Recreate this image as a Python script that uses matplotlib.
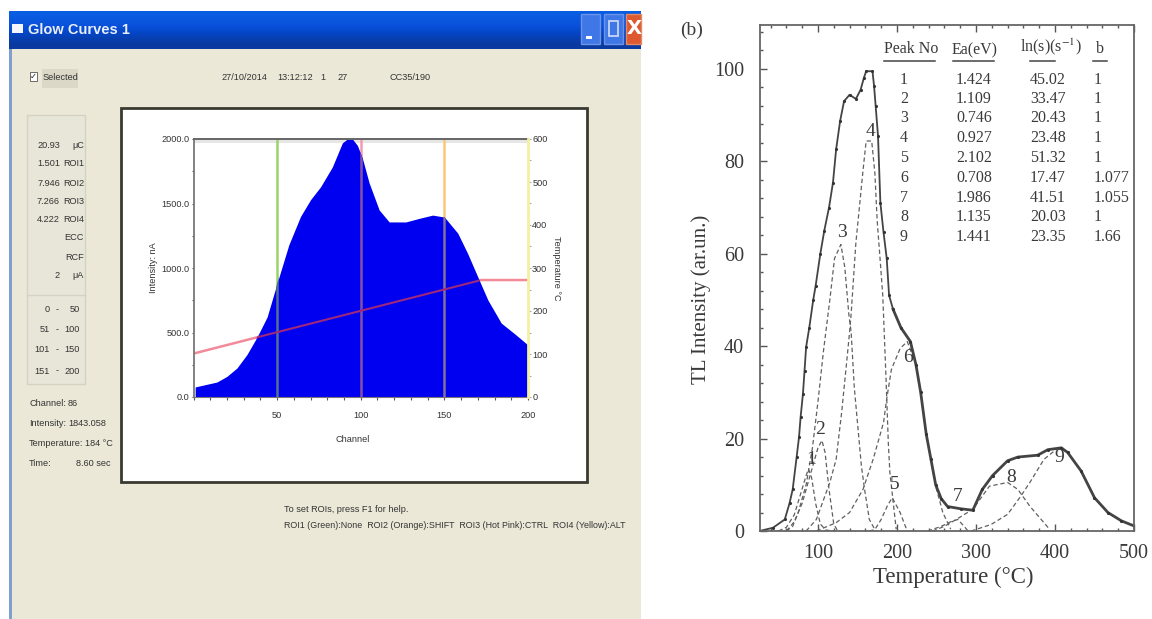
import numpy as np
import matplotlib
matplotlib.use('Agg')
import matplotlib.pyplot as plt
from matplotlib.colors import LinearSegmentedColormap
from matplotlib.patches import Rectangle
from matplotlib.ticker import MultipleLocator, FormatStrFormatter

W, H = 1152, 619

# Left panel: glow curve screenshot
channel = [1, 14, 20, 26, 32, 38, 44, 50, 57, 64, 70, 76, 83, 89, 92, 95, 98, 101, 105, 111, 117, 127, 135, 143, 150,
           158, 164, 170, 176, 184, 192, 200]
intensity = [78, 116, 160, 225, 330, 465, 620, 883, 1180, 1400, 1530, 1630, 1783, 1970, 2000, 2000, 1950, 1850, 1660,
             1450, 1357, 1357, 1385, 1410, 1395, 1270, 1110, 930, 752, 573, 490, 403]
temp_channel = [1, 172, 200]
temp_value = [102, 272, 272]
roi_channel = [50, 100, 150]
roi_colors = ['#9ad468', '#f49ab0', '#f8c878']
roi_dark_colors = ['#56708f', '#8450a4', '#857096']

side_numbers = ['20.93', '1.501', '7.946', '7.266', '4.222', '', '', '2']
side_units = ['μC', 'ROI1', 'ROI2', 'ROI3', 'ROI4', 'ECC', 'RCF', 'μA']
range_low = ['0', '51', '101', '151']
range_high = ['50', '100', '150', '200']
status_names = ['Channel:', 'Intensity:', 'Temperature:', 'Time:']
status_values = ['86', '1843.058', '184 °C', '8.60 sec']

# Right panel: TL curve and fitted peaks
total_t = [26, 43, 58, 64, 68, 73, 76, 78, 81, 83, 85, 89, 94, 97, 103, 108, 114, 119, 123, 128, 133, 140, 148, 154,
           158, 161, 169, 171, 173, 176, 179, 183, 187, 190, 195, 205, 217, 224, 230, 237, 243, 249, 256, 264, 281,
           296, 308, 321, 340, 353, 378, 391, 408, 416, 433, 450, 467, 484, 500]
total_i = [0, 0.7, 2.5, 6, 9, 16, 20.3, 24.6, 29.7, 34.7, 39.8, 44, 50, 53, 60, 65, 70, 75.4, 82.6, 88.7, 93, 94.4,
           93.5, 95.5, 98, 99.5, 99.5, 96.3, 92, 85.5, 71, 64.6, 59, 51, 48, 44, 41, 36, 30, 21, 15.5, 10, 7, 5.3,
           4.8, 4.5, 9, 12, 15.2, 16, 16.4, 17.6, 18, 17, 13, 7.2, 4, 2.2, 1.1]
peaks = [
    ([50, 60, 70, 78, 85, 88, 92, 97, 103, 110, 120], [0, 0.8, 3.5, 8, 12, 13.4, 11.5, 6, 1.5, 0.2, 0]),
    ([60, 70, 80, 90, 100, 105, 109, 114, 120, 125], [0, 2, 6, 12, 18, 19.6, 17, 9, 1.5, 0]),
    ([60, 68, 75, 85, 93, 100, 107, 115, 121, 129, 134, 137, 139, 142, 146, 155, 159, 165, 172],
     [0, 1, 4, 10, 18, 28, 39, 50, 59, 62, 57, 51, 47, 43, 31, 14, 9, 2.5, 0.3]),
    ([85, 98, 115, 123, 130, 136, 140, 142, 148, 153, 157, 161, 168, 172, 175, 179, 182, 186, 189, 191, 196, 199],
     [0, 2.5, 10.5, 15.5, 25.7, 36, 43, 47, 62.4, 71, 78, 84.4, 84.4, 77.5, 67, 58, 51, 33.7, 19.2, 12.7, 5, 0.4]),
    ([165, 172, 180, 188, 194, 204, 212], [0, 0.3, 2.5, 5.5, 7.2, 4, 0.4]),
    ([98, 123, 140, 157, 170, 183, 187, 193, 204, 213, 224, 230, 237, 243, 249, 258, 268],
     [0, 1.8, 4, 9, 15.6, 23.5, 28.6, 35, 39.5, 41, 36, 30, 21, 15.5, 9.7, 4, 0.4]),
    ([239, 256, 268, 277, 285, 290], [0, 1, 2, 2.5, 1, 0]),
    ([245, 260, 275, 296, 317, 340, 353, 368, 393], [0, 1, 2.5, 4.7, 9.7, 10.5, 9, 5.4, 0.4]),
    ([294, 319, 340, 357, 370, 386, 404, 416, 433, 450, 467, 484, 500],
     [0, 1.4, 3.6, 7.6, 11, 15.5, 18, 17, 13, 7.2, 4, 2.2, 1.1]),
]
peak_labels = ['1', '2', '3', '4', '5', '6', '7', '8', '9']
label_t = [91, 103, 130, 166, 197, 214, 277, 345, 406]
label_i = [15.5, 22, 64.5, 86.5, 10, 37.5, 7.5, 11.5, 16]

peak_no = ['1', '2', '3', '4', '5', '6', '7', '8', '9']
ea_ev = ['1.424', '1.109', '0.746', '0.927', '2.102', '0.708', '1.986', '1.135', '1.441']
ln_s = ['45.02', '33.47', '20.43', '23.48', '51.32', '17.47', '41.51', '20.03', '23.35']
b_val = ['1', '1', '1', '1', '1', '1.077', '1.055', '1', '1.66']
row_y = [80, 99, 118, 138, 158, 178, 198, 217, 237]

fig = plt.figure(figsize=(W / 100, H / 100), dpi=100, facecolor='white')


def px_axes(left, top, right, bottom):
    # axes placed by pixel edges of the picture
    return fig.add_axes([left / W, 1 - bottom / H, (right - left) / W, (bottom - top) / H])


def px_canvas(order):
    # full picture canvas in pixel coordinates
    c = fig.add_axes([0, 0, 1, 1], zorder=order)
    c.set_xlim(0, W)
    c.set_ylim(H, 0)
    c.axis('off')
    return c


bg = px_canvas(0)
fg = px_canvas(3)

# Window chrome
bg.add_patch(Rectangle((9, 11), 632, 608, fc='#ebe8d8', ec='none'))
bg.add_patch(Rectangle((9, 49), 3, 570, fc='#7f9fd0', ec='none'))
grad = np.array([[0.0], [0.35], [0.75], [1.0]])
title_cmap = LinearSegmentedColormap.from_list('bar', ['#0a5ce0', '#0a52dc', '#0446c8', '#0a3aa0'])
bg.imshow(grad, extent=(9, 641, 49, 11), cmap=title_cmap, aspect='auto', interpolation='bilinear', zorder=1.5)
bg.set_xlim(0, W)
bg.set_ylim(H, 0)
bg.add_patch(Rectangle((12, 24), 11, 9, fc='#f4f6fb', ec='none', zorder=2))
bg.text(28, 30, 'Glow Curves 1', color='#e8eefa', fontsize=10.5, fontweight='bold',
        family='Liberation Sans', va='center', zorder=3)
bg.add_patch(Rectangle((581, 14), 19, 30, fc='#3f78e6', ec='#6d93e8', lw=1, zorder=2))
bg.add_patch(Rectangle((586, 36), 6, 3, fc='white', ec='none', zorder=3))
bg.add_patch(Rectangle((604, 14), 19, 30, fc='#3f78e6', ec='#6d93e8', lw=1, zorder=2))
bg.add_patch(Rectangle((609, 21), 9, 15, fc='none', ec='#c8d6f4', lw=1.3, zorder=3))
bg.add_patch(Rectangle((626, 14), 15, 30, fc='#dd5a30', ec='#e08a68', lw=1, zorder=2))
bg.text(634, 29, 'X', color='white', fontsize=14, fontweight='bold', ha='center', va='center', zorder=3)

sans = dict(family='Liberation Sans', color='#333333', fontsize=6.6, va='center')

bg.add_patch(Rectangle((30, 72), 7, 9, fc='white', ec='#555555', lw=0.6))
bg.text(33.5, 76, '✓', fontsize=6, ha='center', va='center', color='#222222', family='DejaVu Sans')
bg.add_patch(Rectangle((42, 69), 36, 19, fc='#dbd8c8', ec='none'))
bg.text(43, 78, 'Selected', **sans)
bg.text(221, 78, '27/10/2014', **sans)
bg.text(277, 78, '13:12:12', **sans)
bg.text(320, 78, '1', **sans)
bg.text(337, 78, '27', **sans)
bg.text(390, 78, 'CC35/190', **sans)

bg.add_patch(Rectangle((27, 115), 58, 269, fc='#e8e6d8', ec='#d4d2c2', lw=1))
bg.plot([27, 85], [295, 295], color='#d4d2c2', lw=1)
for y, num, unit in zip([146, 163, 183, 201, 220, 238, 257, 275], side_numbers, side_units):
    bg.text(60, y, num, ha='right', **sans)
    bg.text(84, y, unit, ha='right', **sans)
for y, lo, hi in zip([310, 330, 350, 371], range_low, range_high):
    bg.text(50, y, lo, ha='right', **sans)
    bg.text(57, y, '-', ha='center', **sans)
    bg.text(80, y, hi, ha='right', **sans)
for y, name, value, vx in zip([403, 423, 443, 463], status_names, status_values, [68, 68, 85, 76]):
    bg.text(29, y, name, **sans)
    bg.text(vx, y, value, **sans)
bg.text(284, 510, 'To set ROIs, press F1 for help.', **sans)
bg.text(284, 526, 'ROI1 (Green):None  ROI2 (Orange):SHIFT  ROI3 (Hot Pink):CTRL  ROI4 (Yellow):ALT',
        **{**sans, 'fontsize': 6.4})

# White plot panel with the sunken frame
bg.add_patch(Rectangle((121, 108), 466, 374, fc='white', ec='#3a3a30', lw=2))
bg.text(153, 268, 'Intensity: nA', rotation=90, ha='center', **sans)
bg.text(557, 268, 'Temperature °C', rotation=270, ha='center', **sans)
bg.text(353, 440, 'Channel', ha='center', **sans)

ax1 = px_axes(193.5, 139, 528, 397)
ax1.set_zorder(2)
ax1.axhspan(1970, 2000, color='#e6e6e6', lw=0, zorder=0.5)
temp_scaled = np.array(temp_value) / 600 * 2000
# light lines sit behind the blue fill, darker copies are clipped to it
for c, col in zip(roi_channel, roi_colors):
    ax1.axvline(c, color=col, lw=1.8, zorder=1)
ax1.plot(temp_channel, temp_scaled, color='#f28a9a', lw=1.8, zorder=1)
glow = ax1.fill_between(channel, intensity, color='#0000f0', lw=0, zorder=2)
glow_path = glow.get_paths()[0]
for c, col in zip(roi_channel, roi_dark_colors):
    ln = ax1.axvline(c, color=col, lw=1.8, zorder=3)
    ln.set_clip_path(glow_path, transform=ax1.transData)
ln, = ax1.plot(temp_channel, temp_scaled, color='#a0287c', lw=1.5, zorder=3)
ln.set_clip_path(glow_path, transform=ax1.transData)
ax1.set_xlim(0, 200)
ax1.set_ylim(0, 2000)
ax1.xaxis.set_minor_locator(MultipleLocator(10))
ax1.yaxis.set_major_locator(MultipleLocator(500))
ax1.yaxis.set_minor_locator(MultipleLocator(250))
ax1.yaxis.set_major_formatter(FormatStrFormatter('%.1f'))
ax1.tick_params(which='both', direction='out', length=1.8, width=0.8, color='#555555', labelsize=6.6,
                labelcolor='#333333', pad=1)
ax1.tick_params(axis='x', pad=8)
for s in ['left', 'bottom']:
    ax1.spines[s].set_color('#777777')
ax1.spines['left'].set_linewidth(1.3)
ax1.spines['top'].set_color('#666666')
ax1.spines['top'].set_linewidth(1.4)
ax1.spines['right'].set_visible(False)
ax1.set_xticks([50, 100, 150, 200])
for lab in ax1.get_xticklabels() + ax1.get_yticklabels():
    lab.set_family('Liberation Sans')

ax1r = ax1.twinx()
ax1r.set_ylim(0, 600)
ax1r.yaxis.set_major_locator(MultipleLocator(100))
ax1r.yaxis.set_minor_locator(MultipleLocator(50))
ax1r.tick_params(which='both', direction='out', length=2, width=0.8, color='#aaaaaa', labelsize=6.6,
                 labelcolor='#333333', pad=1)
for lab in ax1r.get_yticklabels():
    lab.set_family('Liberation Sans')
for s in ['left', 'bottom', 'top']:
    ax1r.spines[s].set_visible(False)
ax1r.spines['right'].set_color('#f4f0a0')
ax1r.spines['right'].set_linewidth(2)

# Right panel
serif = 'Liberation Serif'
dark = '#3a3a3a'
ax2 = px_axes(759.5, 25, 1134, 531)
ax2.set_zorder(2)
ax2.patch.set_alpha(0)
for t, i in peaks:
    ax2.plot(t, i, color='#606060', lw=0.9, dashes=(3.5, 2.2))
# the measured curve is drawn thinner on its rising side, heavier after the main peak
split = total_t.index(195)
ax2.plot(total_t[:split + 1], total_i[:split + 1], color='#444444', lw=1.3)
ax2.plot(total_t[split:], total_i[split:], color='#444444', lw=2)
ax2.plot(total_t, total_i, ls='none', marker='.', ms=2.5, color='#333333')
ax2.set_xlim(26, 500)
ax2.set_ylim(0, 109.5)
ax2.xaxis.set_major_locator(MultipleLocator(100))
ax2.xaxis.set_minor_locator(MultipleLocator(20))
ax2.yaxis.set_major_locator(MultipleLocator(20))
ax2.yaxis.set_minor_locator(MultipleLocator(4))
ax2.tick_params(which='major', direction='in', length=5, width=1, color='#555555', top=True, labelsize=14.5,
                labelcolor=dark)
ax2.tick_params(axis='x', which='major', pad=9)
ax2.tick_params(axis='y', which='major', pad=11)
ax2.tick_params(which='minor', direction='in', length=2.5, width=1, color='#555555', top=True)
for lab in ax2.get_xticklabels() + ax2.get_yticklabels():
    lab.set_family(serif)
for s in ax2.spines.values():
    s.set_color('#666666')
    s.set_linewidth(1.3)
ax2.set_xlabel('Temperature (°C)', family=serif, fontsize=16.5, color=dark, va='center')
ax2.set_ylabel('TL Intensity (ar.un.)', family=serif, fontsize=15, color=dark, va='center')
ax2.xaxis.set_label_coords(0.517, -0.091)
ax2.yaxis.set_label_coords(-0.157, 0.458)
for lab, t, i in zip(peak_labels, label_t, label_i):
    ax2.text(t, i, lab, family=serif, fontsize=14, color=dark, ha='center', va='center')

tab = dict(family=serif, color=dark, fontsize=11.5, va='center')
fg.text(692, 30, '(b)', family=serif, color=dark, fontsize=14, ha='center', va='center')
fg.text(911, 49, 'Peak No', ha='center', **tab)
fg.text(975, 50, 'Ea(eV)', ha='center', **tab)
fg.text(1051, 47, r'ln(s)(s$^{-1}$)', ha='center', math_fontfamily='stix', **tab)
fg.text(1100, 49, 'b', ha='center', **tab)
for x0, x1 in [(884, 935), (953, 994), (1030, 1055), (1093, 1107)]:
    fg.plot([x0, x1], [60.5, 60.5], color='#444444', lw=1.1)
for y, p, e, l, b in zip(row_y, peak_no, ea_ev, ln_s, b_val):
    fg.text(904, y, p, ha='center', **tab)
    fg.text(956, y, e, **tab)
    fg.text(1030, y, l, **tab)
    fg.text(1094, y, b, **tab)

fig.savefig('out.png', dpi=100)
